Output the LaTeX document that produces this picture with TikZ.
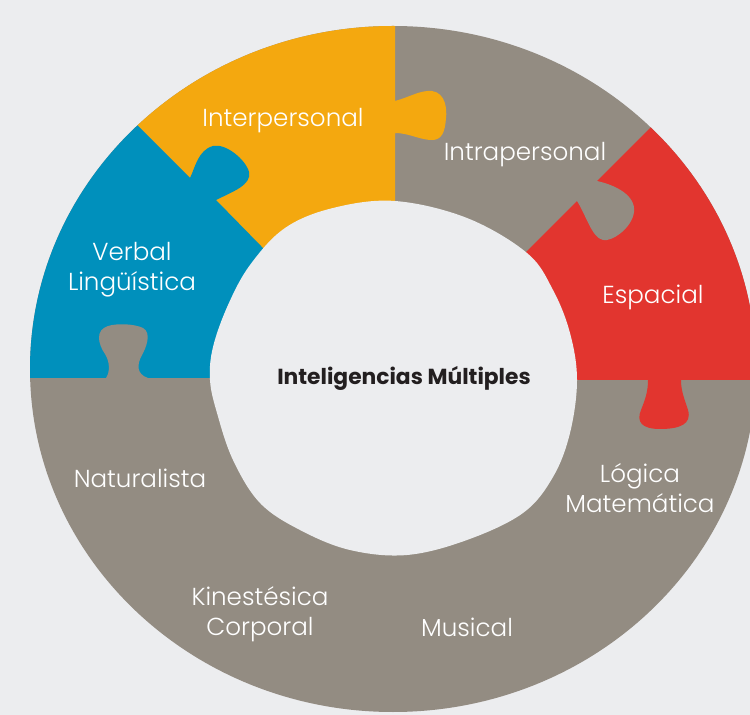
\documentclass[tikz,border=0pt]{standalone}
\usepackage{fontspec}
\setmainfont{Poppins}
\newfontfamily\ligera{Poppins Light}
\definecolor{fondo}{HTML}{ECEDEF}
\definecolor{gris}{HTML}{938C82}
\definecolor{naranja}{HTML}{F4A80F}
\definecolor{azul}{HTML}{0090BC}
\definecolor{rojo}{HTML}{E2352F}
\definecolor{tinta}{HTML}{231F20}
\tikzset{etiqueta/.style={text=white,font=\ligera\fontsize{14}{17}\selectfont,align=center,inner sep=0pt},
  titulo/.style={text=tinta,font=\fontsize{12.4}{14}\selectfont\bfseries,inner sep=0pt}}

\begin{document}
\begin{tikzpicture}[line cap=round,line join=round,x=0.02cm,y=-0.02cm]
	\fill[fondo] (0,0) rectangle (750,715);
	\useasboundingbox (0,0) rectangle (750,715);
	\begin{scope}
		\clip (393,369) ellipse [x radius=363, y radius=343];
		\fill[gris] (0,0) rectangle (750,760);
		\fill[naranja] (395,383) -- (395,133) .. controls (408,133) and (418,139) .. (430,140) .. controls (442,141) and (445,132) .. (446,118) .. controls (447,110) and (446,93) .. (432,91) .. controls (420,90) and (410,97) .. (395,101) -- (395,-40) -- (-28,-40) -- cycle;
		\fill[azul] (395,383) -- (216,200) .. controls (232,192) and (252,185) .. (249,172) .. controls (246,160) and (226,143) .. (213,146) .. controls (198,150) and (195,168) .. (190,178) -- (-28,-40) -- (-40,-40) -- (-40,378) -- (395,378) -- cycle;
		\fill[rojo] (395,383) -- (800,-22) -- (800,380) -- (395,380) -- cycle;
		\fill[gris] (590,178) -- (597,181) .. controls (615,185) and (636,195) .. (634,212) .. controls (632,228) and (612,242) .. (603,240) .. controls (592,238) and (586,215) .. (577,201) -- (570,200) -- cycle;
		\fill[gris] (100,385) -- (106,378) .. controls (110,372) and (110,362) .. (105,354) .. controls (98,344) and (95,330) .. (108,326) .. controls (118,323) and (135,324) .. (143,328) .. controls (152,333) and (146,348) .. (142,355) .. controls (137,364) and (136,374) .. (148,378) -- (150,385) -- cycle;
		\fill[rojo] (645,375) -- (648,380) .. controls (648,392) and (645,400) .. (641,410) .. controls (636,422) and (642,429) .. (660,429) .. controls (680,429) and (692,424) .. (688,410) .. controls (685,400) and (681,392) .. (681,380) -- (683,375) -- cycle;
	\end{scope}
	\fill[fondo] plot[smooth cycle,tension=0.6] coordinates {(395,201) (467,218) (527,253) (553,290) (570,333) (577,380) (570,433) (553,477) (523,513) (467,540) (407,555) (350,550) (300,530) (260,503) (233,460) (217,413) (210,380) (213,347) (228,305) (250,265) (285,228) (333,208)};
	\node[etiqueta] (interp) at (283,121) {Interpersonal};
	\node[etiqueta] (intrap) at (525,155) {Intrapersonal};
	\node[etiqueta] (verbal) at (132,270) {Verbal\\Lingüística};
	\node[etiqueta] (espacial) at (653,297) {Espacial};
	\node[etiqueta] (logica) at (640,488) {Lógica\\Matemática};
	\node[etiqueta] (natur) at (140,478) {Naturalista};
	\node[etiqueta] (kines) at (260,614) {Kinestésica\\Corporal};
	\node[etiqueta] (musical) at (467,627) {Musical};
	\node[titulo] (centro) at (404,378) {Inteligencias Múltiples};
\end{tikzpicture}
\end{document}
